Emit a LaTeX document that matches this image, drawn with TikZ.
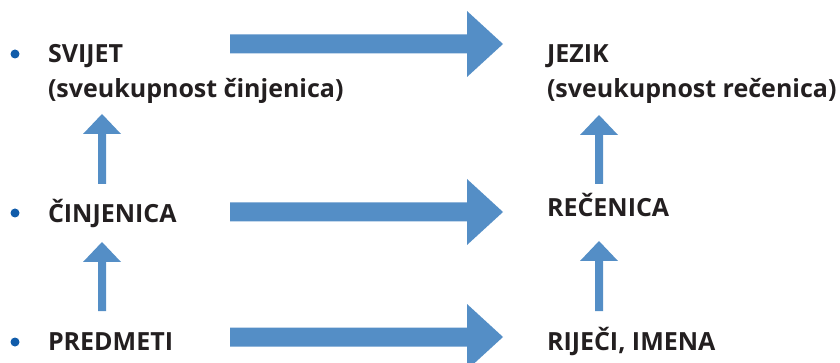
\documentclass[tikz,border=0pt]{standalone}
\usepackage{fontspec}
\setmainfont{Open Sans}
\usetikzlibrary{calc}
\definecolor{arrowblue}{RGB}{84,142,198}
\definecolor{bulletblue}{RGB}{16,92,170}
\definecolor{txtgray}{RGB}{35,31,32}
\newcommand{\BlkH}[2]{%
  \fill[arrowblue] ($(#1)+(0,-9.5)$) -- ($(#2)+(-36,-9.5)$) -- ($(#2)+(-36,-33)$) -- (#2)
    -- ($(#2)+(-36,33)$) -- ($(#2)+(-36,9.5)$) -- ($(#1)+(0,9.5)$) -- cycle;}
\newcommand{\BlkV}[2]{%
  \fill[arrowblue] ($(#1)+(-4,0)$) -- ($(#2)+(-4,20)$) -- ($(#2)+(-19,20)$) -- (#2)
    -- ($(#2)+(19,20)$) -- ($(#2)+(4,20)$) -- ($(#1)+(4,0)$) -- cycle;}
\tikzset{
  lbl/.style={anchor=base west, inner sep=0pt, outer sep=0pt, text=txtgray, font=\fontsize{25}{30}\selectfont\bfseries},
  bullet/.style={circle, fill=bulletblue, inner sep=0pt, minimum size=9pt}
}
\begin{document}
\begin{tikzpicture}[x=1pt,y=-1pt]
\useasboundingbox (0,0) rectangle (840,363);
% labels
\node[lbl] (svijet) at (48,63) {SVIJET};
\node[lbl] (svijetp) at (48,98) {(sveukupnost činjenica)};
\node[lbl] (cinj) at (48,223) {ČINJENICA};
\node[lbl] (pred) at (48,350) {PREDMETI};
\node[lbl] (jezik) at (547,63) {JEZIK};
\node[lbl] (jezikp) at (547,98) {(sveukupnost rečenica)};
\node[lbl] (rec) at (547,217) {REČENICA};
\node[lbl] (rijeci) at (547,350) {RIJEČI, IMENA};
% bullets
\node[bullet] (b1) at (15,54) {};
\node[bullet] (b2) at (15,213) {};
\node[bullet] (b3) at (15,342) {};
% horizontal arrows
\coordinate (h1s) at (230,44); \coordinate (h1e) at (503,44);
\coordinate (h2s) at (230,212); \coordinate (h2e) at (503,212);
\coordinate (h3s) at (230,337); \coordinate (h3e) at (503,337);
\BlkH{h1s}{h1e}
\BlkH{h2s}{h2e}
\BlkH{h3s}{h3e}
% vertical arrows
\coordinate (v1s) at (102,184); \coordinate (v1e) at (102,114);
\coordinate (v2s) at (102,311); \coordinate (v2e) at (102,242);
\coordinate (v3s) at (599,184); \coordinate (v3e) at (599,115);
\coordinate (v4s) at (599,311); \coordinate (v4e) at (599,241);
\BlkV{v1s}{v1e}
\BlkV{v2s}{v2e}
\BlkV{v3s}{v3e}
\BlkV{v4s}{v4e}
\end{tikzpicture}
\end{document}
